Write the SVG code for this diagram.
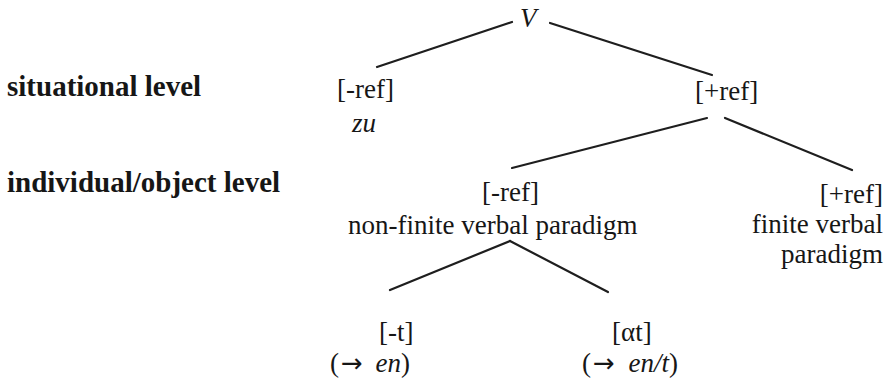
<svg xmlns="http://www.w3.org/2000/svg" width="896" height="383" viewBox="0 0 896 383">
<style>
text{font-family:"Liberation Serif","Tinos","Times New Roman","DejaVu Serif","Noto Serif",serif;fill:#161616;font-size:27px}
.lbl{font-weight:bold;font-size:29px}
.it{font-style:italic}
.end{text-anchor:end}
.arr{font-family:"DejaVu Sans",sans-serif;font-size:26px}
.edge{stroke:#1e1e1e;stroke-width:2.2;fill:none;stroke-linecap:round}
</style>
<rect width="896" height="383" fill="#fff"/>
<g id="levels">
<text class="lbl" x="7" y="96">situational level</text>
<text class="lbl" x="7" y="192">individual/object level</text>
</g>
<g id="connectors">
<line class="edge" x1="512" y1="22" x2="377" y2="67"/>
<line class="edge" x1="550" y1="23" x2="712" y2="75"/>
<line class="edge" x1="707" y1="118" x2="512" y2="168"/>
<line class="edge" x1="725" y1="118" x2="852" y2="170"/>
<line class="edge" x1="510" y1="241" x2="390" y2="290"/>
<line class="edge" x1="510" y1="241" x2="608" y2="292"/>
</g>
<g id="node-V"><text class="it" x="520" y="27">V</text></g>
<g id="node-sit-minus"><text x="337" y="98">[-ref]</text><text class="it" x="352" y="132">zu</text></g>
<g id="node-sit-plus"><text x="695" y="100">[+ref]</text></g>
<g id="node-ind-minus"><text x="482" y="201">[-ref]</text><text x="348" y="234">non-finite verbal paradigm</text></g>
<g id="node-ind-plus"><text class="end" x="883" y="203">[+ref]</text><text class="end" x="883" y="233">finite verbal</text><text class="end" x="883" y="263">paradigm</text></g>
<g id="node-t-minus"><text x="330" y="372">(<tspan class="arr" dx="2">→</tspan> <tspan class="it" dx="6">en</tspan>)</text><text x="379" y="341">[-t]</text></g>
<g id="node-t-alpha"><text x="612" y="341">[αt]</text><text x="582" y="372">(<tspan class="arr" dx="2">→</tspan> <tspan class="it" dx="7">en/t</tspan>)</text></g>
</svg>
